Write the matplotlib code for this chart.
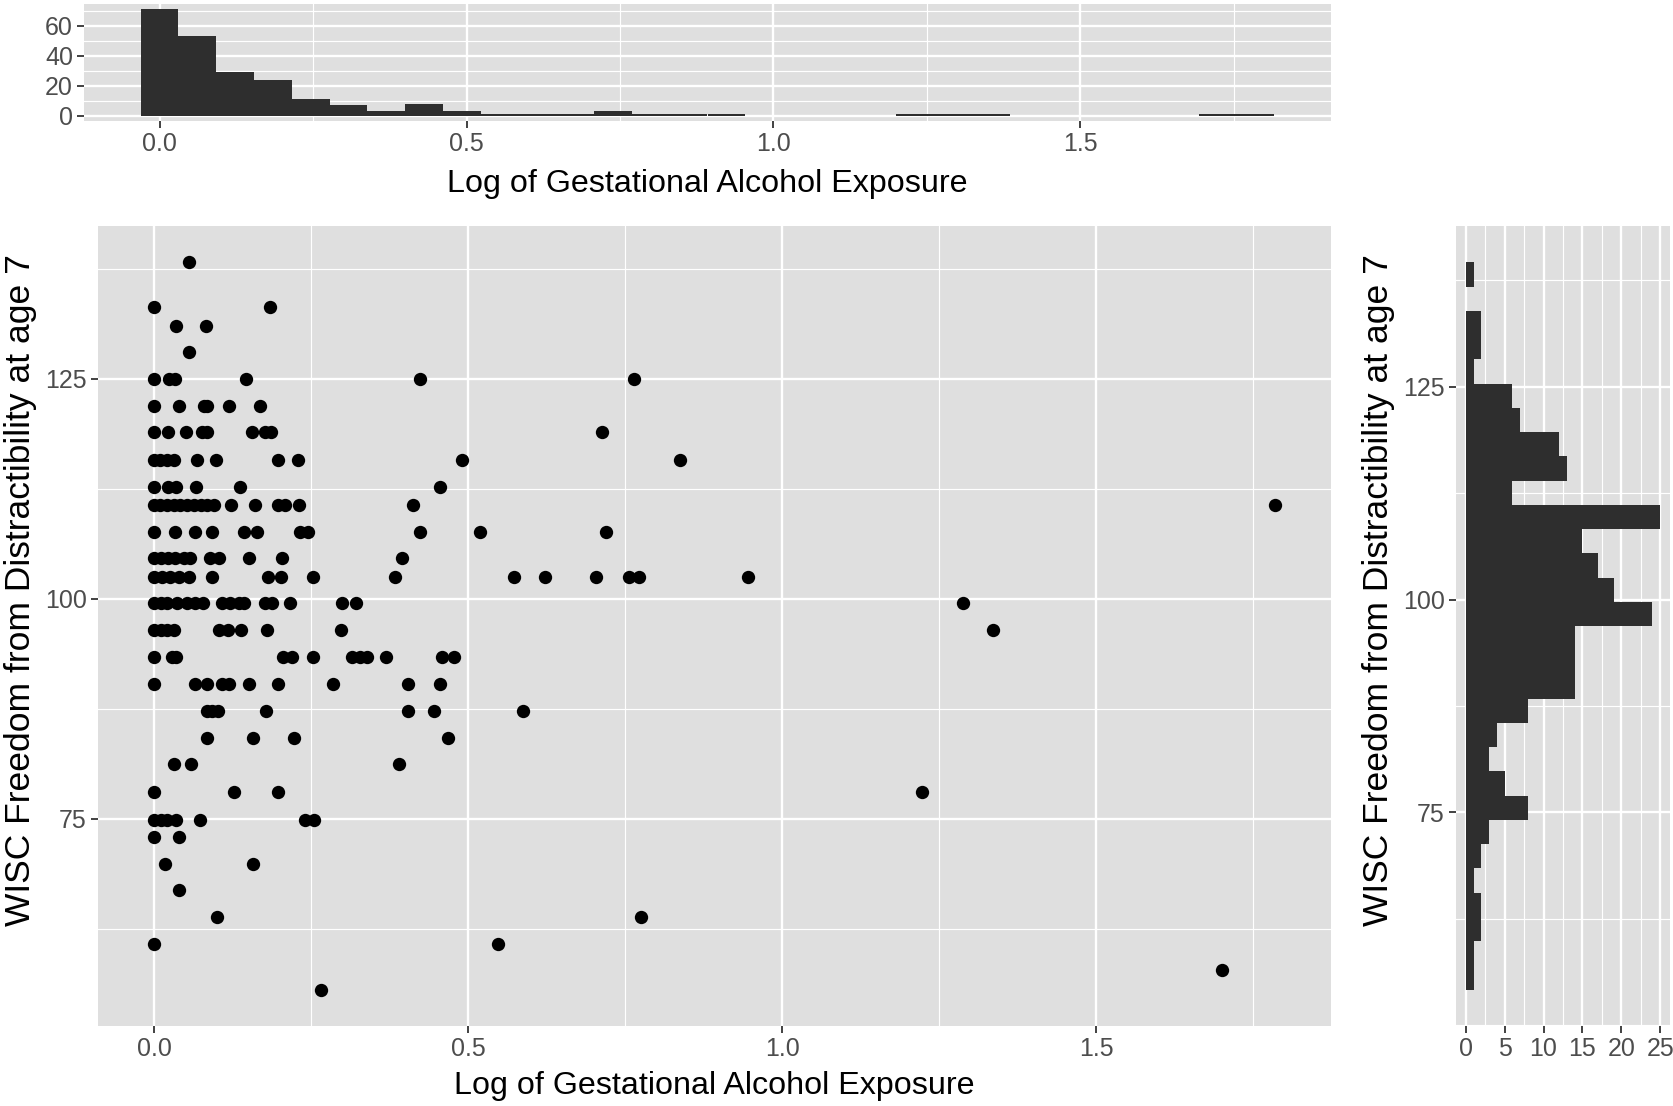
import matplotlib
matplotlib.use('Agg')
import matplotlib.pyplot as plt
from matplotlib.ticker import AutoMinorLocator
import numpy as np

plt.rcParams['font.family'] = ['Liberation Sans', 'DejaVu Sans']

# WISC score levels (rows of the scatter) and the log alcohol exposure of the points on each row
wisc_levels = [138.2, 133.1, 131.0, 128.0, 125.0, 121.9, 118.9, 115.8, 112.7, 110.6,
               107.6, 104.6, 102.5, 99.5, 96.4, 93.4, 90.3, 87.3, 84.2, 81.2,
               78.1, 74.9, 72.9, 69.9, 66.9, 63.8, 60.8, 57.8, 55.6]
alcohol_by_level = [
    [0.055],
    [0.0, 0.185],
    [0.035, 0.083],
    [0.055],
    [0.0, 0.024, 0.034, 0.146, 0.424, 0.764],
    [0.0, 0.040, 0.079, 0.085, 0.120, 0.168],
    [0.0, 0.023, 0.051, 0.076, 0.084, 0.156, 0.176, 0.187, 0.713],
    [0.0, 0.010, 0.020, 0.032, 0.068, 0.099, 0.198, 0.229, 0.491, 0.837],
    [0.0, 0.023, 0.035, 0.067, 0.137, 0.455],
    [0.0, 0.010, 0.020, 0.031, 0.042, 0.052, 0.063, 0.074, 0.084, 0.095,
     0.122, 0.160, 0.198, 0.209, 0.231, 0.412, 1.785],
    [0.0, 0.034, 0.065, 0.092, 0.144, 0.164, 0.233, 0.245, 0.423, 0.519, 0.720],
    [0.0, 0.011, 0.023, 0.034, 0.047, 0.057, 0.089, 0.104, 0.152, 0.203, 0.395],
    [0.0, 0.012, 0.026, 0.040, 0.055, 0.092, 0.182, 0.202, 0.253, 0.383,
     0.574, 0.623, 0.703, 0.757, 0.772, 0.946],
    [0.0, 0.011, 0.021, 0.036, 0.052, 0.065, 0.078, 0.108, 0.121, 0.135,
     0.143, 0.177, 0.188, 0.217, 0.300, 0.322, 1.289],
    [0.0, 0.011, 0.021, 0.031, 0.103, 0.117, 0.139, 0.180, 0.298, 1.336],
    [0.0, 0.028, 0.035, 0.206, 0.220, 0.253, 0.315, 0.328, 0.339, 0.369, 0.459, 0.478],
    [0.0, 0.065, 0.084, 0.108, 0.120, 0.152, 0.197, 0.285, 0.405, 0.455],
    [0.084, 0.092, 0.102, 0.179, 0.405, 0.446, 0.587],
    [0.084, 0.157, 0.223, 0.468],
    [0.031, 0.059, 0.390],
    [0.0, 0.127, 0.198, 1.223],
    [0.0, 0.011, 0.021, 0.035, 0.073, 0.241, 0.254],
    [0.0, 0.040],
    [0.018, 0.157],
    [0.039],
    [0.100, 0.776],
    [0.0, 0.548],
    [1.700],
    [0.266],
]

# marginal histogram counts (30 bins each, as in geom_histogram)
alcohol_counts = [71, 53, 29, 24, 11, 7, 3, 8, 3, 1, 1, 1, 3, 1, 1, 1,
                  0, 0, 0, 0, 1, 1, 1, 0, 0, 0, 0, 0, 1, 1]
wisc_counts = [1, 1, 2, 2, 1, 2, 3, 8, 5, 3, 4, 8, 14, 14, 14, 24,
               19, 17, 15, 25, 6, 13, 12, 7, 6, 1, 2, 2, 0, 1]

x_ticks = [0.0, 0.5, 1.0, 1.5]
x_tick_labels = ['0.0', '0.5', '1.0', '1.5']
y_ticks = [75, 100, 125]
top_count_ticks = [0, 20, 40, 60]
right_count_ticks = [0, 5, 10, 15, 20, 25]

x_title = 'Log of Gestational Alcohol Exposure'
y_title = 'WISC Freedom from Distractibility at age 7'

alc = np.array([a for row in alcohol_by_level for a in row])
wisc = np.array([lev for lev, row in zip(wisc_levels, alcohol_by_level) for _ in row])

W, H = 1673, 1106
fig = plt.figure(figsize=(W / 100, H / 100), dpi=100)

BG = '#DFDFDF'
BAR = '#2E2E2E'
TICKSIZE = 18
XTITLESIZE = 23.2
YTITLESIZE = 25.5
YLABEL_POS = 0.545


def gg_style(ax):
    ax.set_facecolor(BG)
    for s in ax.spines.values():
        s.set_visible(False)
    ax.xaxis.set_minor_locator(AutoMinorLocator(2))
    ax.yaxis.set_minor_locator(AutoMinorLocator(2))
    ax.grid(which='major', color='white', linewidth=1.7)
    ax.grid(which='minor', color='white', linewidth=0.85)
    ax.set_axisbelow(True)
    ax.tick_params(which='major', length=5, width=1.3, color='#333333',
                   labelcolor='#4D4D4D', labelsize=TICKSIZE, pad=3)
    ax.tick_params(which='minor', length=0)


def gg_bins(values, counts):
    lo, hi = values.min(), values.max()
    bw = (hi - lo) / (len(counts) - 1)
    edges = lo - bw / 2 + bw * np.arange(len(counts))
    return edges, bw


# top marginal histogram
ax_top = fig.add_axes([84 / W, 1 - 121 / H, 1247 / W, 117 / H])
edges, bw = gg_bins(alc, alcohol_counts)
ax_top.bar(edges, alcohol_counts, width=bw, align='edge', color=BAR, linewidth=0)
span = edges[-1] + bw - edges[0]
ax_top.set_xlim(edges[0] - 0.05 * span, edges[-1] + bw + 0.05 * span)
ax_top.set_ylim(-0.05 * max(alcohol_counts), 1.05 * max(alcohol_counts))
gg_style(ax_top)
ax_top.set_xticks(x_ticks)
ax_top.set_xticklabels(x_tick_labels)
ax_top.set_yticks(top_count_ticks)
ax_top.set_xlabel(x_title, fontsize=XTITLESIZE, labelpad=9.5)

# main scatter
ax_main = fig.add_axes([98 / W, 1 - 1026 / H, 1233 / W, 800 / H])
ax_main.scatter(alc, wisc, s=92, color='black', linewidths=0, zorder=3)
xs = alc.max() - alc.min()
ys = wisc.max() - wisc.min()
ax_main.set_xlim(alc.min() - 0.05 * xs, alc.max() + 0.05 * xs)
ax_main.set_ylim(wisc.min() - 0.05 * ys, wisc.max() + 0.05 * ys)
gg_style(ax_main)
ax_main.set_xticks(x_ticks)
ax_main.set_xticklabels(x_tick_labels)
ax_main.set_yticks(y_ticks)
ax_main.set_xlabel(x_title, fontsize=XTITLESIZE, labelpad=7)
ax_main.set_ylabel(y_title, fontsize=YTITLESIZE, labelpad=6, y=YLABEL_POS)

# right marginal histogram
ax_right = fig.add_axes([1456 / W, 1 - 1026 / H, 214 / W, 800 / H])
edges_y, bw_y = gg_bins(wisc, wisc_counts)
ax_right.barh(edges_y, wisc_counts, height=bw_y, align='edge', color=BAR, linewidth=0)
span_y = edges_y[-1] + bw_y - edges_y[0]
ax_right.set_ylim(edges_y[0] - 0.05 * span_y, edges_y[-1] + bw_y + 0.05 * span_y)
ax_right.set_xlim(-0.05 * max(wisc_counts), 1.05 * max(wisc_counts))
gg_style(ax_right)
ax_right.set_xticks(right_count_ticks)
ax_right.set_yticks(y_ticks)
ax_right.set_ylabel(y_title, fontsize=YTITLESIZE, labelpad=6, y=YLABEL_POS)

fig.savefig('out.png', dpi=100)
